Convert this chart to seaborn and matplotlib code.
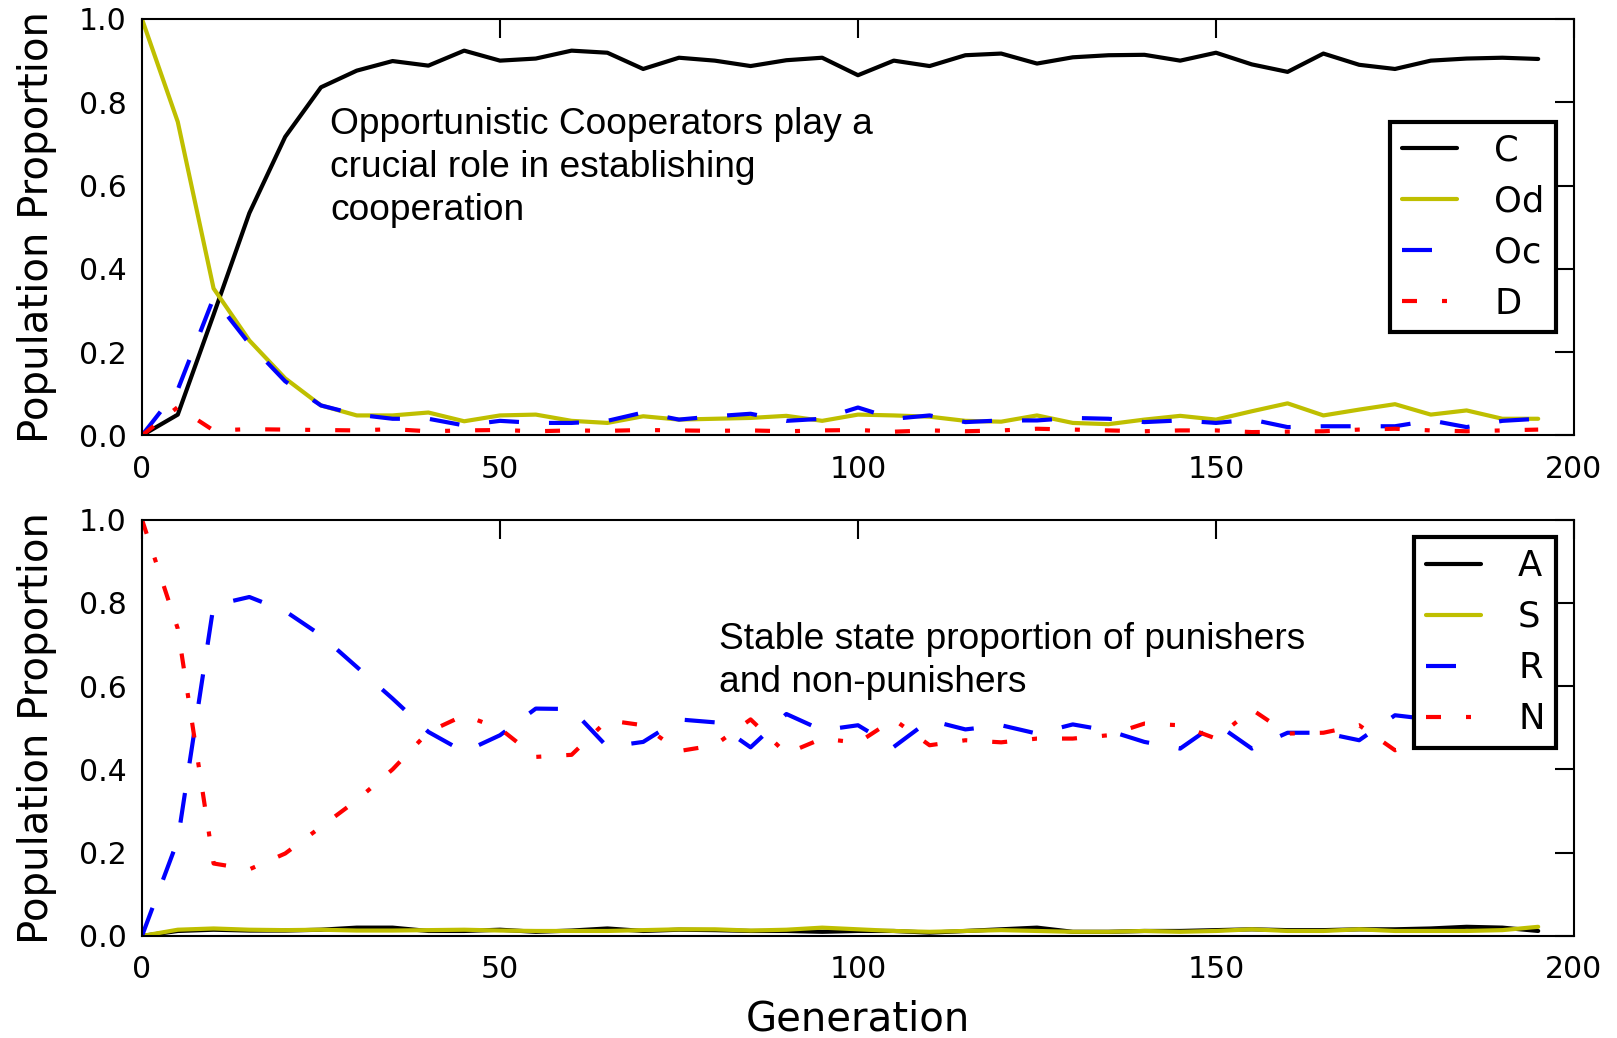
import numpy as np
import matplotlib
matplotlib.use("Agg")
import matplotlib.pyplot as plt
import seaborn as sns

# generations sampled every 5 steps
generations = list(range(0, 200, 5))

# top panel: strategies
C = [0.0, 0.05, 0.29, 0.534, 0.717, 0.836, 0.876, 0.899, 0.888, 0.924,
     0.90, 0.905, 0.924, 0.919, 0.88, 0.907, 0.90, 0.887, 0.901, 0.907,
     0.865, 0.90, 0.887, 0.913, 0.917, 0.893, 0.908, 0.913, 0.914, 0.90,
     0.919, 0.891, 0.873, 0.917, 0.89, 0.88, 0.90, 0.905, 0.907, 0.904]
Od = [1.0, 0.753, 0.353, 0.228, 0.137, 0.072, 0.048, 0.048, 0.055, 0.034,
      0.048, 0.05, 0.035, 0.03, 0.046, 0.038, 0.04, 0.042, 0.047, 0.035,
      0.05, 0.048, 0.045, 0.035, 0.033, 0.048, 0.03, 0.027, 0.038, 0.047,
      0.038, 0.058, 0.077, 0.048, 0.062, 0.075, 0.05, 0.06, 0.04, 0.04]
Oc = [0.0, 0.11, 0.33, 0.22, 0.13, 0.072, 0.05, 0.04, 0.04, 0.024,
      0.035, 0.03, 0.03, 0.035, 0.055, 0.038, 0.046, 0.052, 0.035, 0.04,
      0.067, 0.04, 0.048, 0.032, 0.036, 0.036, 0.042, 0.04, 0.032, 0.036,
      0.03, 0.038, 0.02, 0.022, 0.022, 0.022, 0.036, 0.02, 0.035, 0.04]
D = [0.0, 0.068, 0.012, 0.015, 0.014, 0.013, 0.012, 0.015, 0.01, 0.012,
     0.013, 0.01, 0.012, 0.011, 0.013, 0.012, 0.011, 0.012, 0.01, 0.012,
     0.013, 0.009, 0.012, 0.01, 0.012, 0.016, 0.014, 0.012, 0.01, 0.012,
     0.012, 0.008, 0.009, 0.01, 0.014, 0.016, 0.012, 0.01, 0.012, 0.014]

# bottom panel: punishers / non-punishers
A = [0.0, 0.012, 0.015, 0.013, 0.013, 0.015, 0.02, 0.02, 0.012, 0.012,
     0.015, 0.01, 0.013, 0.018, 0.012, 0.015, 0.014, 0.012, 0.012, 0.01,
     0.012, 0.012, 0.008, 0.012, 0.016, 0.02, 0.01, 0.01, 0.012, 0.012,
     0.014, 0.016, 0.014, 0.014, 0.016, 0.016, 0.018, 0.022, 0.02, 0.012]
S = [0.0, 0.015, 0.018, 0.015, 0.014, 0.015, 0.013, 0.013, 0.014, 0.015,
     0.013, 0.012, 0.012, 0.012, 0.014, 0.016, 0.016, 0.013, 0.015, 0.02,
     0.016, 0.012, 0.01, 0.012, 0.014, 0.012, 0.01, 0.01, 0.012, 0.01,
     0.012, 0.016, 0.012, 0.012, 0.016, 0.012, 0.012, 0.012, 0.014, 0.022]
R = [0.0, 0.23, 0.794, 0.814, 0.78, 0.722, 0.646, 0.57, 0.49, 0.442,
     0.482, 0.546, 0.545, 0.454, 0.466, 0.52, 0.513, 0.453, 0.533, 0.494,
     0.506, 0.454, 0.518, 0.496, 0.506, 0.486, 0.508, 0.493, 0.466, 0.45,
     0.51, 0.45, 0.488, 0.488, 0.47, 0.53, 0.52, 0.5, 0.49, 0.5]
N = [1.0, 0.738, 0.174, 0.16, 0.198, 0.262, 0.326, 0.40, 0.49, 0.53,
     0.498, 0.43, 0.435, 0.518, 0.506, 0.444, 0.458, 0.52, 0.438, 0.474,
     0.464, 0.52, 0.458, 0.47, 0.465, 0.474, 0.474, 0.482, 0.51, 0.506,
     0.474, 0.544, 0.486, 0.488, 0.506, 0.446, 0.47, 0.5, 0.5, 0.49]

top_labels = ["C", "Od", "Oc", "D"]
bottom_labels = ["A", "S", "R", "N"]

sns.set_style("white")
plt.rcParams["font.family"] = ["DejaVu Sans"]
plt.rcParams["lines.scale_dashes"] = False
plt.rcParams["axes.linewidth"] = 1.5
for key in ["text.color", "axes.labelcolor", "xtick.color", "ytick.color", "axes.edgecolor"]:
    plt.rcParams[key] = "k"

colors = ["k", "y", "b", "r"]
styles = ["-", "-", (0, (21.6, 21.6)), (0, (10.8, 18, 3.6, 18))]
LW = 3.0

fig, (ax1, ax2) = plt.subplots(2, 1, figsize=(16.17, 10.38), dpi=100)
fig.subplots_adjust(left=0.0878, right=0.9734, top=0.9817, bottom=0.0983, hspace=0.202)


def draw_panel(ax, series, labels):
    for vals, lab, col, ls in zip(series, labels, colors, styles):
        sns.lineplot(x=generations, y=vals, ax=ax, color=col, linestyle=ls,
                     linewidth=LW, label=lab)
    ax.set_xlim(0, 200)
    ax.set_ylim(0, 1.0)
    ax.set_xticks([0, 50, 100, 150, 200])
    ax.set_yticks([0.0, 0.2, 0.4, 0.6, 0.8, 1.0])
    ax.tick_params(direction="in", length=14, width=1.5, top=True, right=True,
                   labelsize=21.5, colors="k")
    ax.tick_params(axis="x", pad=14)
    ax.tick_params(axis="y", pad=11)
    ax.set_ylabel("Population Proportion", fontsize=29, labelpad=16)
    for sp in ax.spines.values():
        sp.set_visible(True)
        sp.set_color("k")


draw_panel(ax1, [C, Od, Oc, D], top_labels)
draw_panel(ax2, [A, S, R, N], bottom_labels)
ax1.set_xlabel("")
ax2.set_xlabel("Generation", fontsize=29, labelpad=11)

for ax, loc in [(ax1, "center right"), (ax2, "upper right")]:
    leg = ax.legend(loc=loc, fontsize=25.5, fancybox=False, framealpha=1,
                    edgecolor="k", handlelength=1.55, handletextpad=1.05,
                    labelspacing=0.48, borderpad=0.33)
    leg.get_frame().set_linewidth(3)

ax1.text(26.3, 0.788, "Opportunistic Cooperators play a\ncrucial role in establishing\ncooperation",
         fontsize=26.7, family="Liberation Sans", va="top", ha="left",
         linespacing=1.3, color="k")
ax2.text(80.6, 0.755, "Stable state proportion of punishers\nand non-punishers",
         fontsize=26.7, family="Liberation Sans", va="top", ha="left",
         linespacing=1.3, color="k")

fig.savefig("out.png", dpi=100)
